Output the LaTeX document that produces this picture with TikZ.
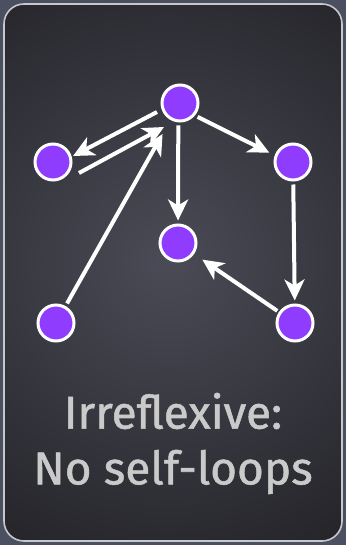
\documentclass[tikz,border=0pt]{standalone}
\usepackage{fontspec}
\setmainfont{Fira Sans}
\newfontfamily\capfont{Fira Sans}[FakeBold=1.1]
\usetikzlibrary{arrows.meta}
\definecolor{backdrop}{HTML}{4A5060}
\definecolor{cardedge}{HTML}{C8C8CC}
\definecolor{cardmid}{HTML}{4A4B56}
\definecolor{cardout}{HTML}{1E1E22}
\definecolor{vertexfill}{HTML}{8F3CFF}
\definecolor{labelgray}{HTML}{CACACA}
\tikzset{
  vertex/.style={circle, fill=vertexfill, draw=white, line width=3pt, minimum size=36pt, inner sep=0pt},
  edge/.style={draw=white, line width=4pt, -{Stealth[length=21pt, width=20pt, inset=6pt]}, shorten >=3pt, shorten <=3pt},
  caption/.style={text=labelgray, font=\capfont\fontsize{46}{52}\selectfont}
}
\begin{document}
\begin{tikzpicture}[x=1pt, y=-1pt]
  % page backdrop and card
  \fill[backdrop] (0,0) rectangle (346,545);
  \begin{scope}
    \clip[rounded corners=20pt] (4,4) rectangle (342,541);
    \shade[inner color=cardmid, outer color=cardout] (168,260) circle (380pt);
  \end{scope}
  \draw[cardedge, line width=1.6pt, rounded corners=20pt] (4,4) rectangle (342,541);

  % vertices
  \node[vertex] (t) at (180,103) {};
  \node[vertex] (l) at (53,162) {};
  \node[vertex] (r) at (293,162) {};
  \node[vertex] (m) at (178,243) {};
  \node[vertex] (bl) at (56,323) {};
  \node[vertex] (br) at (295,323) {};

  % helper points for the parallel pair
  \coordinate (tl1) at (157,112);
  \coordinate (lt1) at (73,156);
  \coordinate (lt2) at (79,173);
  \coordinate (tl2) at (164,127);

  % edges
  \draw[edge, shorten <=0pt, shorten >=0pt] (tl1) -- (lt1);
  \draw[edge, shorten <=0pt, shorten >=0pt] (lt2) -- (tl2);
  \draw[edge, shorten >=16pt] (bl) -- (t);
  \draw[edge] (t.265) -- (m);
  \draw[edge, shorten >=6pt] (t.-40) -- (r.160);
  \draw[edge] (r) -- (br);
  \draw[edge, shorten >=10pt, shorten <=2pt] (br) -- (m);

  % caption
  \node[caption] (c1) at (173,411) {Irreflexive:};
  \node[caption] (c2) at (173,472) {No self-loops};
\end{tikzpicture}
\end{document}
